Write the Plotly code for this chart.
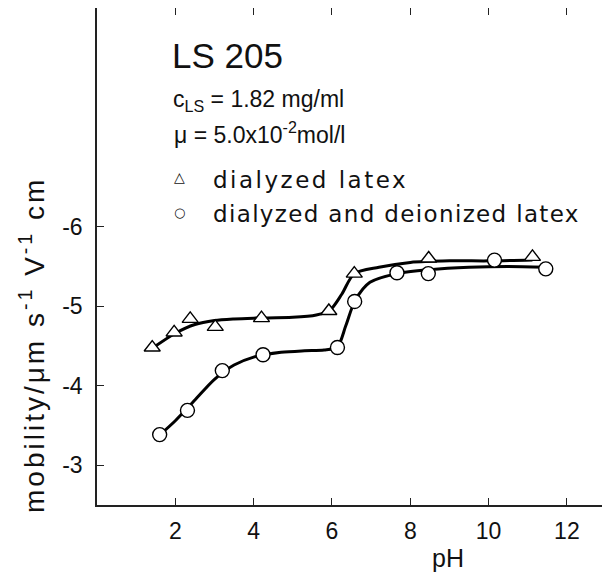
import plotly.graph_objects as go

# measured points
ph_tri = [1.41, 1.97, 2.38, 3.02, 4.20, 5.92, 6.57, 8.47, 11.12]
mob_tri = [-4.48, -4.67, -4.84, -4.74, -4.85, -4.94, -5.41, -5.60, -5.62]
ph_circ = [1.60, 2.31, 3.20, 4.24, 6.14, 6.58, 7.66, 8.46, 10.15, 11.46]
mob_circ = [-3.385, -3.69, -4.19, -4.39, -4.48, -5.06, -5.42, -5.41, -5.58, -5.47]

# hand-drawn fitted curves
curve_tri_ph = [1.41, 2.0, 2.5, 3.0, 3.5, 4.0, 5.0, 5.6, 5.95, 6.25, 6.57, 7.2, 8.0, 9.0, 10.0, 11.12]
curve_tri_mob = [-4.47, -4.66, -4.77, -4.82, -4.84, -4.85, -4.86, -4.89, -4.95, -5.15, -5.41, -5.49, -5.55, -5.57, -5.57, -5.58]
curve_circ_ph = [1.60, 2.0, 2.5, 3.0, 3.5, 4.0, 4.7, 5.3, 5.8, 6.14, 6.35, 6.59, 6.97, 7.66, 8.5, 9.5, 10.5, 11.46]
curve_circ_mob = [-3.38, -3.56, -3.82, -4.08, -4.26, -4.36, -4.42, -4.44, -4.45, -4.49, -4.75, -5.07, -5.30, -5.41, -5.46, -5.49, -5.50, -5.49]

x_ticks = [2, 4, 6, 8, 10, 12]
x_ticklabels = ["2", "4", "6", "8", "10", "12"]
y_ticks = [-3, -4, -5, -6]
y_ticklabels = ["-3", "-4", "-5", "-6"]

OFF = 8  # page body margin
W, H = 610 - OFF, 578 - OFF
L, R, T, B = 89, 0, 0, 73
FONT = "Liberation Sans, Arial, sans-serif"
FONT2 = "DejaVu Sans, sans-serif"

def px(x, y):
    x -= OFF
    y -= OFF
    return (x - L) / (W - L - R), 1 - (y - T) / (H - T - B)

fig = go.Figure()
fig.add_trace(go.Scatter(x=curve_tri_ph, y=curve_tri_mob, mode="lines",
                         line=dict(color="black", width=3, shape="spline", smoothing=0.8),
                         hoverinfo="skip", showlegend=False))
fig.add_trace(go.Scatter(x=curve_circ_ph, y=curve_circ_mob, mode="lines",
                         line=dict(color="black", width=3, shape="spline", smoothing=0.8),
                         hoverinfo="skip", showlegend=False))
fig.add_trace(go.Scatter(x=ph_tri, y=mob_tri, mode="markers",
                         marker=dict(symbol="triangle-up", size=14, color="white",
                                     line=dict(color="black", width=1.4)),
                         showlegend=False))
fig.add_trace(go.Scatter(x=ph_circ, y=mob_circ, mode="markers",
                         marker=dict(symbol="circle", size=14, color="white",
                                     line=dict(color="black", width=1.4)),
                         showlegend=False))

ann = []
def add_text(x, y, text, size, xanchor="left", yanchor="middle", angle=0, family=FONT):
    ax, ay = px(x, y)
    ann.append(dict(x=ax, y=ay, xref="paper", yref="paper", text=text, showarrow=False,
                    xanchor=xanchor, yanchor=yanchor, textangle=angle,
                    font=dict(family=family, size=size, color="#111")))

add_text(170, 56, "LS 205", 35)
add_text(171, 100, "c<sub>LS</sub> = 1.82 mg/ml", 23)
add_text(172, 133, "μ = 5.0x10<sup>-2</sup>mol/l", 23)
add_text(172, 177, "△", 14, family=FONT2)
add_text(172, 212, "○", 13, family=FONT2)
add_text(211, 180, "<span style='letter-spacing:2.5px'>dialyzed latex</span>", 23, family=FONT2)
add_text(211, 214, "<span style='letter-spacing:1.35px'>dialyzed and deionized latex</span>", 23, family=FONT2)
add_text(32, 345, "<span style='letter-spacing:3px'>mobility/μm s<sup>-1</sup> V<sup>-1</sup> cm</span>", 28,
         xanchor="center", angle=-90)
add_text(448, 558, "pH", 25, xanchor="center")

fig.update_layout(
    width=W, height=H, margin=dict(l=L, r=R, t=T, b=B),
    paper_bgcolor="white", plot_bgcolor="white",
    annotations=ann,
    xaxis=dict(range=[0, 13.1], tickvals=x_ticks, ticktext=x_ticklabels,
               ticks="inside", ticklen=7, tickwidth=1.3, tickcolor="#222",
               showline=True, linecolor="#222", linewidth=1.5, mirror="ticks",
               showgrid=False, zeroline=False, automargin=False,
               ticklabelstandoff=5,
               tickfont=dict(family=FONT, size=23, color="#111")),
    yaxis=dict(range=[-2.5, -8.75], tickvals=y_ticks, ticktext=y_ticklabels,
               ticks="inside", ticklen=7, tickwidth=1.3, tickcolor="#222",
               showline=True, linecolor="#222", linewidth=1.5, mirror=False,
               showgrid=False, zeroline=False, automargin=False,
               ticklabelstandoff=8,
               tickfont=dict(family=FONT, size=23, color="#111")),
)
fig.write_html("out.html")
